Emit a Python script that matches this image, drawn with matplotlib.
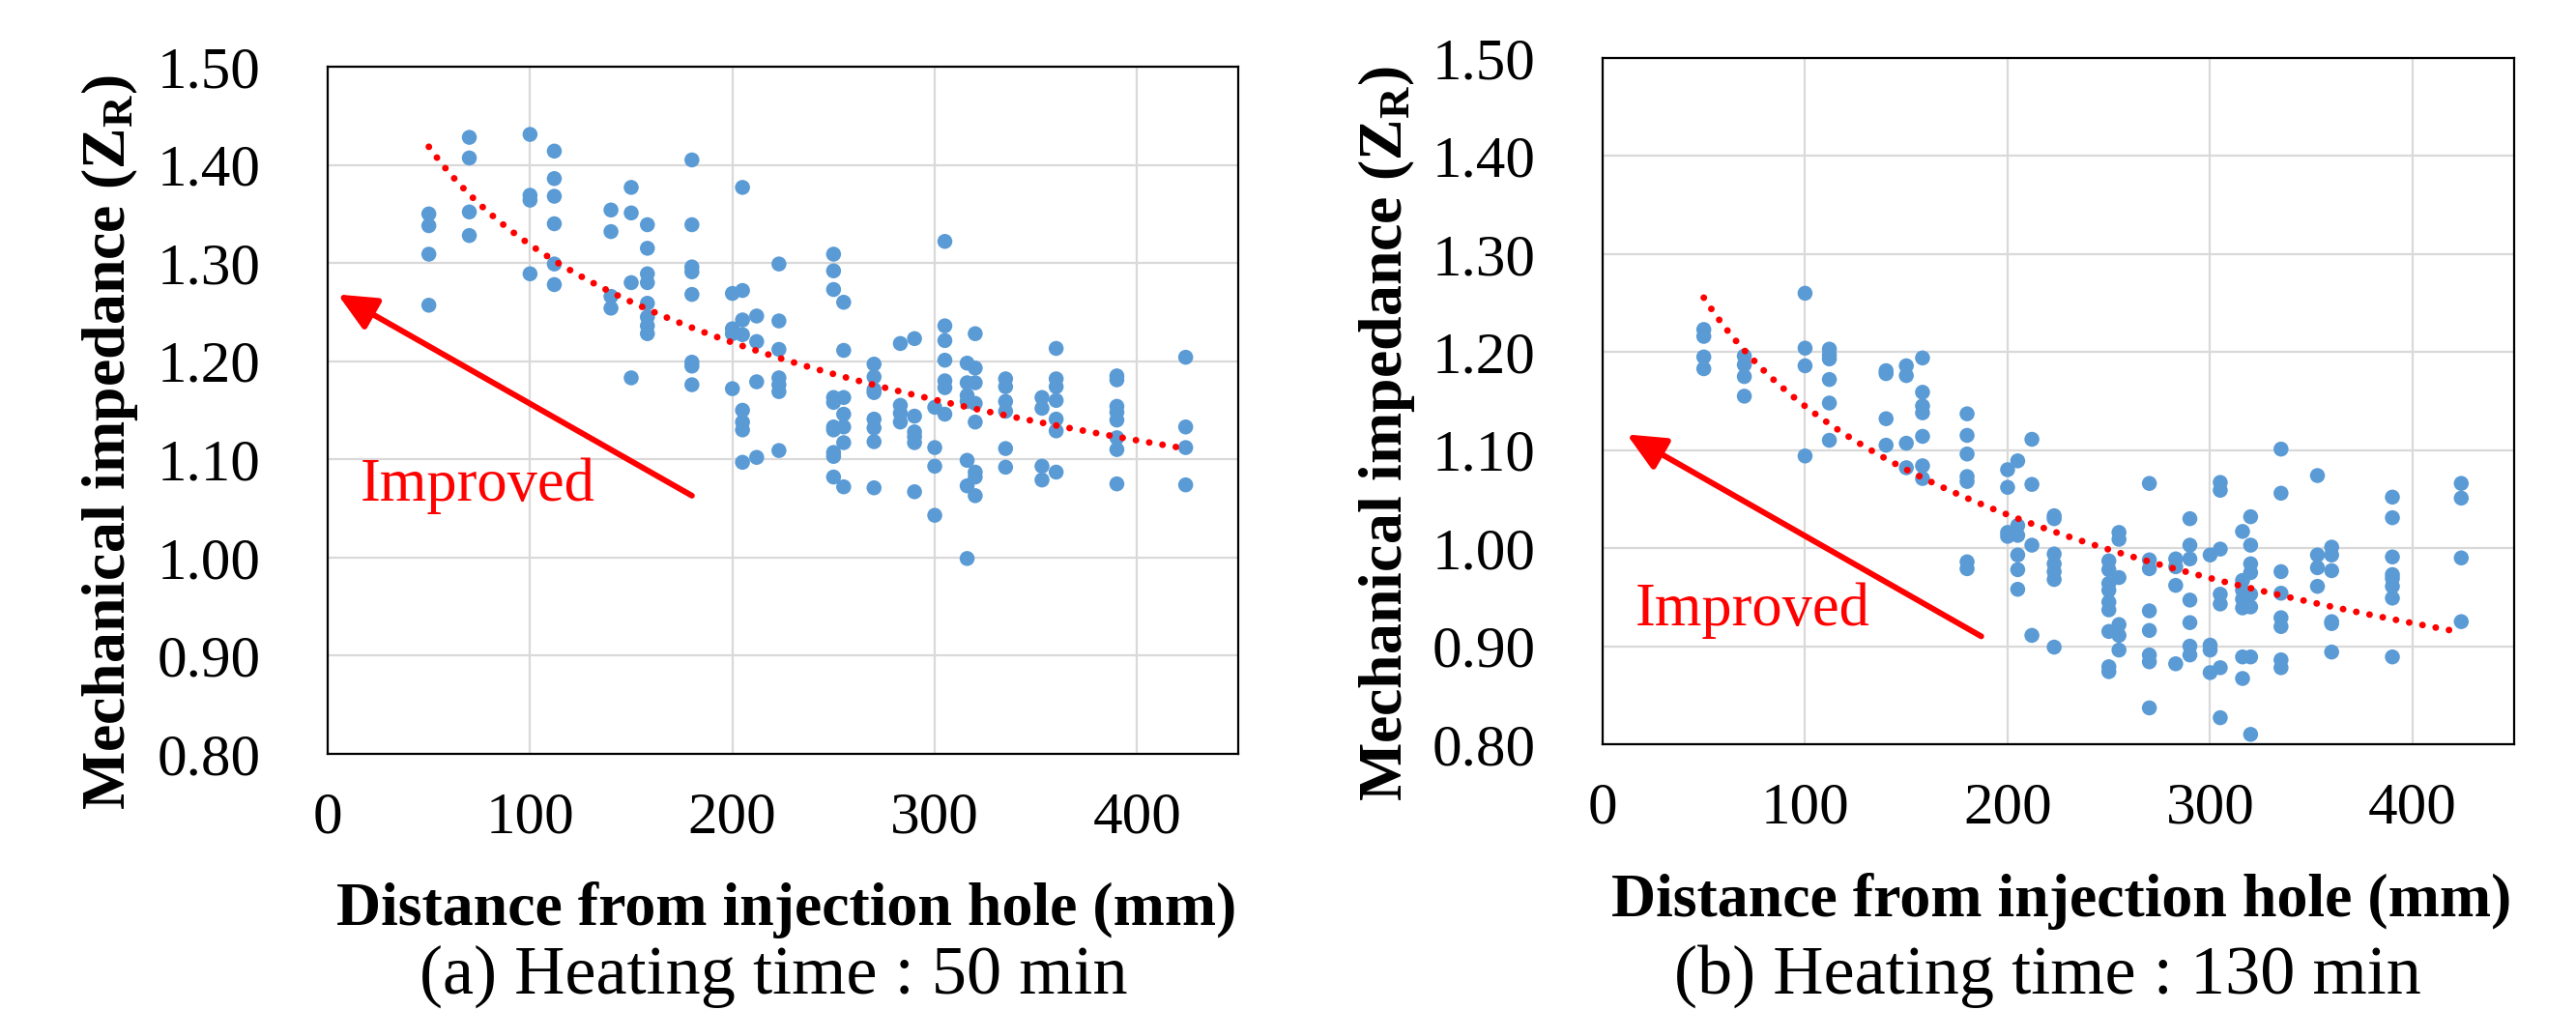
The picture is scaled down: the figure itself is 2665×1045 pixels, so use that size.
import numpy as np
import matplotlib.pyplot as plt
from matplotlib.ticker import FormatStrFormatter

plt.rcParams["font.family"] = ["Liberation Serif", "DejaVu Serif"]
plt.rcParams["mathtext.fontset"] = "custom"
plt.rcParams["mathtext.rm"] = "Liberation Serif"
plt.rcParams["mathtext.bf"] = "Liberation Serif:bold"

# distances (mm) at which impedance was measured
dist = [50, 70, 100, 112, 140, 150, 158, 180, 200, 205, 212, 223, 250, 255,
        270, 283, 290, 300, 305, 316, 320, 335, 353, 360, 390, 424]

# (a) heating time 50 min, values grouped by distance
z_50 = [
    [1.350, 1.338, 1.309, 1.257],
    [1.428, 1.407, 1.352, 1.328],
    [1.431, 1.369, 1.364, 1.289],
    [1.414, 1.386, 1.368, 1.340, 1.299, 1.278],
    [1.354, 1.332, 1.266, 1.254],
    [1.377, 1.351, 1.280, 1.183],
    [1.339, 1.315, 1.289, 1.280, 1.259, 1.245, 1.236, 1.228],
    [1.405, 1.339, 1.296, 1.291, 1.268, 1.199, 1.195, 1.176],
    [1.269, 1.233, 1.228, 1.172],
    [1.377, 1.272, 1.242, 1.227, 1.150, 1.138, 1.130, 1.097],
    [1.246, 1.220, 1.179, 1.102],
    [1.299, 1.241, 1.212, 1.183, 1.176, 1.169, 1.109],
    [1.309, 1.292, 1.273, 1.163, 1.158, 1.133, 1.130, 1.107, 1.103, 1.082],
    [1.260, 1.211, 1.163, 1.146, 1.133, 1.117, 1.072],
    [1.197, 1.184, 1.171, 1.168, 1.141, 1.132, 1.118, 1.071],
    [1.218, 1.155, 1.147, 1.138],
    [1.223, 1.144, 1.128, 1.123, 1.117, 1.067],
    [1.153, 1.112, 1.093, 1.043],
    [1.322, 1.236, 1.221, 1.201, 1.180, 1.173, 1.146],
    [1.198, 1.178, 1.165, 1.159, 1.099, 1.073, 0.999],
    [1.228, 1.193, 1.178, 1.157, 1.138, 1.087, 1.082, 1.063],
    [1.182, 1.174, 1.159, 1.149, 1.111, 1.092],
    [1.163, 1.152, 1.093, 1.079],
    [1.213, 1.182, 1.174, 1.160, 1.141, 1.129, 1.087],
    [1.185, 1.181, 1.154, 1.148, 1.140, 1.122, 1.110, 1.075],
    [1.204, 1.133, 1.112, 1.074],
]

# (b) heating time 130 min
z_130 = [
    [1.223, 1.216, 1.195, 1.183],
    [1.196, 1.187, 1.175, 1.155],
    [1.260, 1.204, 1.186, 1.094],
    [1.203, 1.197, 1.193, 1.172, 1.148, 1.110],
    [1.181, 1.178, 1.132, 1.105],
    [1.186, 1.176, 1.107, 1.082],
    [1.194, 1.159, 1.145, 1.138, 1.114, 1.084, 1.071],
    [1.137, 1.115, 1.096, 1.073, 1.068, 0.986, 0.979],
    [1.080, 1.062, 1.016, 1.012],
    [1.089, 1.023, 1.013, 0.993, 0.978, 0.958],
    [1.111, 1.065, 1.003, 0.911],
    [1.033, 1.030, 0.994, 0.984, 0.976, 0.968, 0.899],
    [0.987, 0.978, 0.964, 0.957, 0.945, 0.937, 0.915, 0.879, 0.874],
    [1.016, 1.009, 0.970, 0.922, 0.911, 0.896],
    [1.066, 0.988, 0.979, 0.936, 0.916, 0.891, 0.884, 0.837],
    [0.989, 0.981, 0.962, 0.882],
    [1.030, 1.003, 0.989, 0.947, 0.924, 0.900, 0.891],
    [0.993, 0.901, 0.896, 0.873],
    [1.067, 1.059, 0.999, 0.953, 0.943, 0.878, 0.827],
    [1.017, 0.967, 0.957, 0.948, 0.939, 0.889, 0.867],
    [1.032, 1.003, 0.984, 0.975, 0.953, 0.940, 0.889, 0.810],
    [1.101, 1.056, 0.976, 0.954, 0.929, 0.920, 0.886, 0.878],
    [1.074, 0.993, 0.980, 0.961],
    [1.001, 0.993, 0.977, 0.925, 0.923, 0.894],
    [1.052, 1.031, 0.991, 0.973, 0.969, 0.961, 0.949, 0.889],
    [1.066, 1.051, 0.990, 0.925],
]

captions = ["(a) Heating time : 50 min", "(b) Heating time : 130 min"]
y_ticks = [0.80, 0.90, 1.00, 1.10, 1.20, 1.30, 1.40, 1.50]
x_ticks = [0, 100, 200, 300, 400]

# "Improved" arrow (tail, head) and label position, data units
arrows = [((180, 1.063), (5, 1.268)), ((187, 0.910), (12, 1.116))]
label_pos = [(16, 1.058), (16, 0.921)]

blue = "#5B9BD5"

fig = plt.figure(figsize=(26.65, 10.45), dpi=100)
ax_a = fig.add_axes([0.1272, 0.2536, 0.3535, 0.6804])
ax_b = fig.add_axes([0.6221, 0.2632, 0.3538, 0.6794])

ylabel_x = [114 / 2665, 1434 / 2665]
ylabel_y = [1 - 458 / 1045, 1 - 449 / 1045]
xlabel_x = [814 / 2665, 2133 / 2665]
xlabel_y = [1 - 957 / 1045, 1 - 948 / 1045]
cap_x = [800 / 2665, 2118 / 2665]

for i, (ax, z) in enumerate([(ax_a, z_50), (ax_b, z_130)]):
    xs = np.concatenate([[d] * len(v) for d, v in zip(dist, z)])
    ys = np.concatenate(z)
    ax.scatter(xs, ys, s=125, color=blue, edgecolors="none", zorder=3)

    # logarithmic trendline fitted to the data, like the spreadsheet
    b, a = np.polyfit(np.log(xs), ys, 1)
    xt = np.linspace(xs.min(), xs.max(), 300)
    ax.plot(xt, a + b * np.log(xt), color="red", lw=5,
            linestyle=(0, (0.01, 2.0)), dash_capstyle="round", zorder=4)

    tail, head = arrows[i]
    ax.annotate("", xy=head, xytext=tail,
                arrowprops=dict(arrowstyle="-|>,head_length=2.4,head_width=1.1",
                                mutation_scale=10, color="red", lw=4.3,
                                shrinkA=0, shrinkB=0), zorder=5)
    ax.text(*label_pos[i], "Improved", color="red", fontsize=45,
            ha="left", va="baseline")

    ax.set_xlim(0, 450)
    ax.set_ylim(0.80, 1.50)
    ax.set_xticks(x_ticks)
    ax.set_yticks(y_ticks)
    ax.yaxis.set_major_formatter(FormatStrFormatter("%.2f"))
    ax.tick_params(axis="both", length=0, labelsize=44)
    ax.tick_params(axis="y", pad=50)
    ax.tick_params(axis="x", pad=28)
    ax.grid(True, color="#D9D9D9", lw=1.6)
    ax.set_axisbelow(True)
    for sp in ax.spines.values():
        sp.set_color("black")
        sp.set_linewidth(1.6)

    fig.text(ylabel_x[i], ylabel_y[i], r"Mechanical impedance ($\mathbf{Z_R}$)",
             rotation=90, ha="center", va="center", fontsize=46,
             fontweight="bold")
    fig.text(xlabel_x[i], xlabel_y[i], "Distance from injection hole (mm)",
             ha="center", va="baseline", fontsize=46, fontweight="bold")
    fig.text(cap_x[i], 0.002, captions[i], ha="center", va="bottom",
             fontsize=52)

fig.savefig("out.png", dpi=100)
